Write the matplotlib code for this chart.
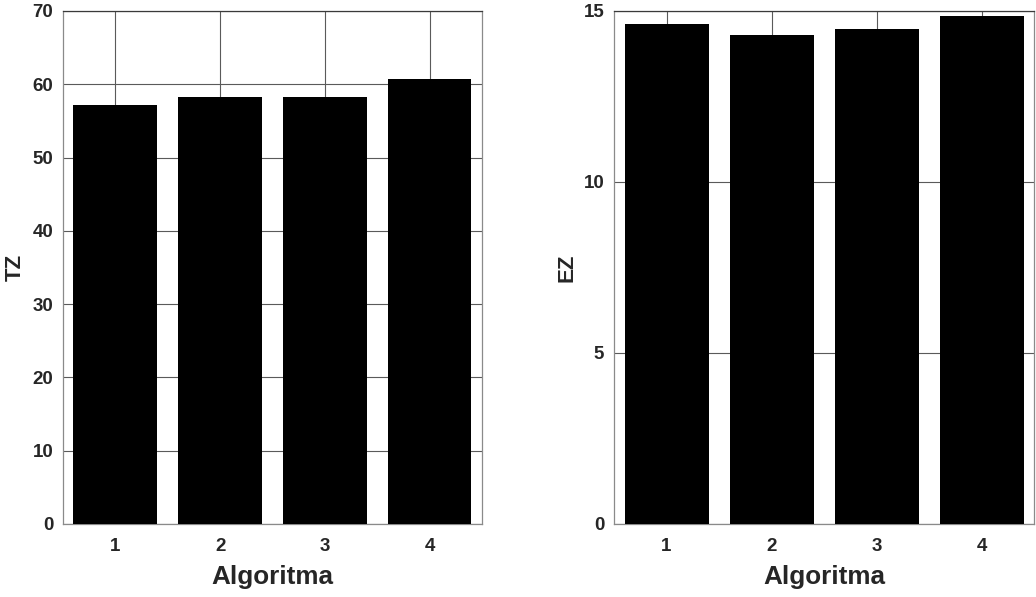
import matplotlib
matplotlib.use("Agg")
import matplotlib.pyplot as plt

# Results per algorithm
algorithms = [1, 2, 3, 4]
tz_values = [57.2, 58.3, 58.2, 60.7]
ez_values = [14.63, 14.29, 14.48, 14.85]
tz_ticks = [0, 10, 20, 30, 40, 50, 60, 70]
ez_ticks = [0, 5, 10, 15]

plt.rcParams['font.family'] = ['Liberation Sans', 'DejaVu Sans']
plt.rcParams['font.weight'] = 'bold'
text_color = '#262626'

fig = plt.figure(figsize=(10.36, 5.97), dpi=100)
ax1 = fig.add_axes([0.0608, 0.1223, 0.4044, 0.8593])
ax2 = fig.add_axes([0.5927, 0.1223, 0.4054, 0.8593])


def draw_panel(ax, values, ticks, ylabel):
    ax.set_axisbelow(True)
    ax.grid(True, color='#5a5a5a', linewidth=0.8)
    ax.bar(algorithms, values, width=0.8, color='black', zorder=3)
    ax.set_xlim(0.5, 4.5)
    ax.set_ylim(ticks[0], ticks[-1])
    ax.set_xticks(algorithms)
    ax.set_yticks(ticks)
    ax.tick_params(axis='both', direction='in', length=0, labelsize=13.5,
                   labelcolor=text_color)
    ax.tick_params(axis='x', pad=10)
    ax.tick_params(axis='y', pad=7)
    for lab in ax.get_xticklabels() + ax.get_yticklabels():
        lab.set_fontweight('bold')
    for side, spine in ax.spines.items():
        spine.set_color('#8a8a8a' if side != 'top' else '#3a3a3a')
        spine.set_linewidth(0.9)
    ax.set_xlabel('Algoritma', fontsize=18.8, fontweight='bold', color=text_color,
                  labelpad=7)
    ax.set_ylabel(ylabel, fontsize=16, fontweight='bold', color=text_color)
    ax.yaxis.set_label_coords(-0.088, 0.5)


draw_panel(ax1, tz_values, tz_ticks, 'TZ')
draw_panel(ax2, ez_values, ez_ticks, 'EZ')

fig.savefig('out.png', dpi=100)
